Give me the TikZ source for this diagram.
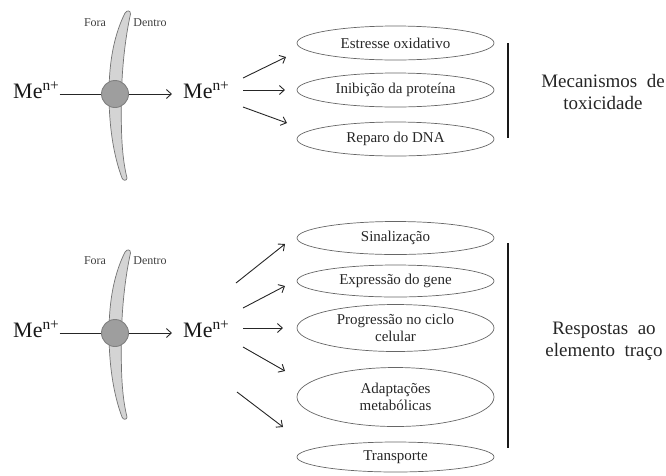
\documentclass[tikz,border=0pt]{standalone}
\usepackage{fontspec}
\setmainfont{Liberation Serif}
\usetikzlibrary{shapes.geometric,arrows.meta}
\begin{document}
\begin{tikzpicture}[x=1pt,y=-1pt,
 ell/.style={ellipse, draw=black!60, line width=0.7pt, minimum width=197pt, inner sep=0pt,
   font=\fontsize{15}{17}\selectfont, align=center, text=black!85},
 metal/.style={font=\fontsize{22}{24}\selectfont, inner sep=0pt, text=black!90},
 side/.style={font=\fontsize{12}{14}\selectfont, text=black!75, inner sep=0pt},
 big/.style={font=\fontsize{19}{22}\selectfont, align=center, inner sep=0pt, text=black!85},
 arr/.style={-{Straight Barb[length=5pt,width=9pt]}, line width=0.9pt, black!85},
 link/.style={line width=0.9pt, black!85},
 bar/.style={line width=1.6pt, black!90},
 pore/.style={circle, fill=black!38, draw=black!50, line width=0.9pt, minimum size=27pt, inner sep=0pt},
 membrane/.pic={
   \draw[fill=black!17, draw=black!55, line width=0.7pt]
     (10,-81) .. controls (-3,-55) and (-6,-25) .. (-6,0)
     .. controls (-6,30) and (-2,60) .. (7,84)
     .. controls (8,87) and (12,87) .. (12,84)
     .. controls (6,60) and (6,30) .. (6.5,0)
     .. controls (7,-25) and (10,-55) .. (15.5,-80)
     .. controls (15.5,-84) and (12,-84) .. (10,-81) -- cycle;
 }]
\useasboundingbox (0,0) rectangle (666,475);

% ---------- top section ----------
\pic at (115,94) {membrane};
\node[side] (fora1) at (95,23) {Fora};
\node[side] (dentro1) at (150,23) {Dentro};
\node[pore] (c1) at (115,94) {};
\node[metal, anchor=base west] (m1) at (13,98) {Me\textsuperscript{n+}};
\node[metal, anchor=base west] (m2) at (183,98) {Me\textsuperscript{n+}};
\draw[link] (m1.east |- c1.west) -- (c1.west);
\draw[arr] (c1.east) -- ([xshift=-11pt]m2.west |- c1.east);

\node[ell, minimum height=34pt] (e1) at (395.5,43) {Estresse oxidativo};
\node[ell, minimum height=34pt] (e2) at (395.5,90) {Inibição da proteína};
\node[ell, minimum height=34pt] (e3) at (395.5,139) {Reparo do DNA};

\coordinate (a1s) at (243,78);  \coordinate (a1e) at (286,57);
\coordinate (a2s) at (243,90);  \coordinate (a2e) at (285,90);
\coordinate (a3s) at (243,107); \coordinate (a3e) at (287,123);
\draw[arr] (a1s) -- (a1e);
\draw[arr] (a2s) -- (a2e);
\draw[arr] (a3s) -- (a3e);

\coordinate (b1t) at (508,43); \coordinate (b1b) at (508,138);
\draw[bar] (b1t) -- (b1b);
\node[big] (t1) at (603,92) {Mecanismos\ \ de\\toxicidade};

% ---------- bottom section ----------
\pic at (115,333) {membrane};
\node[side] (fora2) at (95,261) {Fora};
\node[side] (dentro2) at (150,261) {Dentro};
\node[pore] (c2) at (115,333) {};
\node[metal, anchor=base west] (m3) at (13,337) {Me\textsuperscript{n+}};
\node[metal, anchor=base west] (m4) at (183,337) {Me\textsuperscript{n+}};
\draw[link] (m3.east |- c2.west) -- (c2.west);
\draw[arr] (c2.east) -- ([xshift=-11pt]m4.west |- c2.east);

\node[ell, minimum height=33pt] (f1) at (395.5,238) {Sinalização};
\node[ell, minimum height=32pt] (f2) at (395.5,281) {Expressão do gene};
\node[ell, minimum height=47pt] (f3) at (395.5,328) {Progressão no ciclo\\celular};
\node[ell, minimum height=59pt] (f4) at (395.5,397) {Adaptações\\metabólicas};
\node[ell, minimum height=30pt] (f5) at (395.5,457) {Transporte};

\coordinate (d1s) at (236,283); \coordinate (d1e) at (285,244);
\coordinate (d2s) at (243,308); \coordinate (d2e) at (285,286);
\coordinate (d3s) at (243,328); \coordinate (d3e) at (283,328);
\coordinate (d4s) at (243,347); \coordinate (d4e) at (285,371);
\coordinate (d5s) at (237,392); \coordinate (d5e) at (283,427);
\draw[arr] (d1s) -- (d1e);
\draw[arr] (d2s) -- (d2e);
\draw[arr] (d3s) -- (d3e);
\draw[arr] (d4s) -- (d4e);
\draw[arr] (d5s) -- (d5e);

\coordinate (b2t) at (508,243); \coordinate (b2b) at (508,448);
\draw[bar] (b2t) -- (b2b);
\node[big] (t2) at (604,341) {Respostas\ \ ao\\elemento\ \ traço};
\end{tikzpicture}
\end{document}
